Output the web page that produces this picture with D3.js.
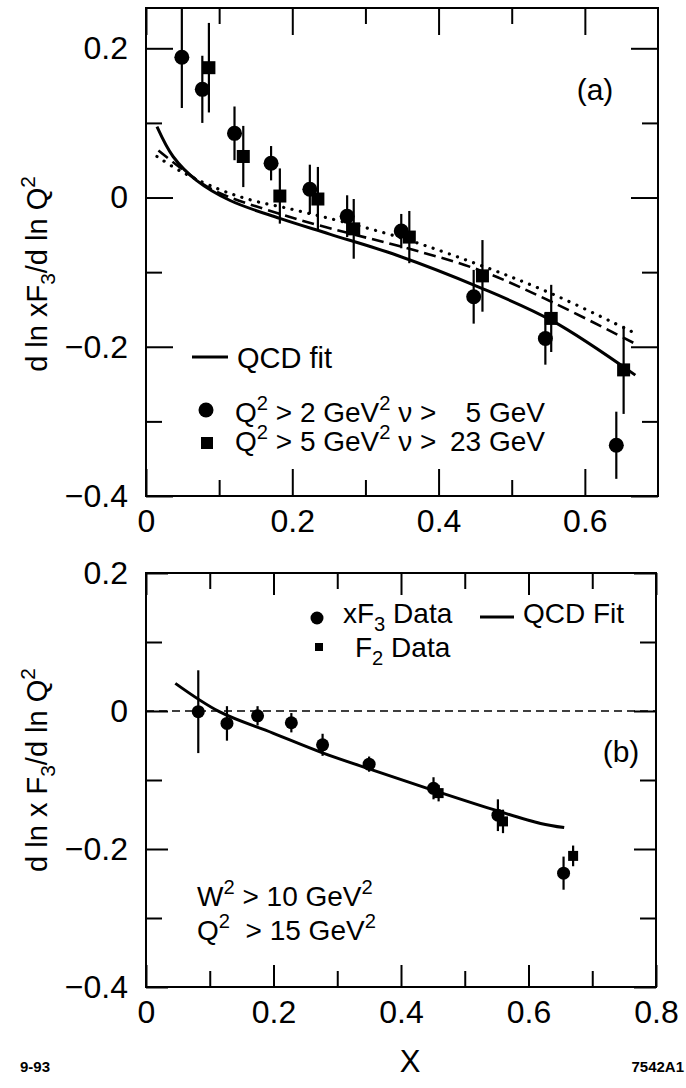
<!DOCTYPE html>
<html>
<head>
<meta charset="utf-8">
<script src="https://cdn.jsdelivr.net/npm/d3@7"></script>
<style>
  body { margin: 0; background: #fff; }
  svg { font-family: "Liberation Sans", Arial, sans-serif; }
  text { fill: #000; }
</style>
</head>
<body>
<svg id="chart" width="686" height="1088"></svg>
<script>
// ---- panel (a) data ----
const aCircX = [0.049, 0.077, 0.121, 0.171, 0.224, 0.275, 0.349, 0.448, 0.546, 0.643];
const aCircY = [0.188, 0.145, 0.086, 0.046, 0.011, -0.025, -0.045, -0.133, -0.189, -0.332];
const aCircE = [0.068, 0.045, 0.036, 0.023, 0.033, 0.028, 0.023, 0.036, 0.035, 0.045];
const aSqX = [0.086, 0.133, 0.183, 0.235, 0.284, 0.360, 0.460, 0.554, 0.653];
const aSqY = [0.174, 0.055, 0.002, -0.002, -0.042, -0.053, -0.105, -0.162, -0.231];
const aSqE = [0.060, 0.041, 0.037, 0.043, 0.040, 0.035, 0.048, 0.045, 0.059];
const aFitX = [0.015, 0.037, 0.069, 0.115, 0.183, 0.251, 0.342, 0.455, 0.555, 0.669];
const aFitY = [0.095, 0.055, 0.023, -0.004, -0.028, -0.049, -0.077, -0.120, -0.165, -0.238];
const aDashX = [0.017, 0.051, 0.092, 0.183, 0.274, 0.346, 0.455, 0.555, 0.669];
const aDashY = [0.063, 0.037, 0.010, -0.022, -0.047, -0.065, -0.097, -0.140, -0.196];
const aDotX = [0.015, 0.046, 0.100, 0.146, 0.205, 0.342, 0.455, 0.555, 0.669];
const aDotY = [0.055, 0.036, 0.011, -0.004, -0.017, -0.052, -0.090, -0.129, -0.182];

// ---- panel (b) data ----
const bCircX = [0.082, 0.127, 0.175, 0.228, 0.277, 0.350, 0.451, 0.552, 0.655];
const bCircY = [-0.001, -0.018, -0.007, -0.017, -0.049, -0.077, -0.112, -0.151, -0.235];
const bCircE = [0.060, 0.025, 0.014, 0.014, 0.016, 0.011, 0.016, 0.023, 0.024];
const bSqX = [0.459, 0.560, 0.670];
const bSqY = [-0.119, -0.160, -0.210];
const bSqE = [0.012, 0.017, 0.015];
const bFitX = [0.046, 0.115, 0.199, 0.278, 0.357, 0.451, 0.552, 0.619, 0.656];
const bFitY = [0.040, -0.001, -0.032, -0.061, -0.086, -0.115, -0.145, -0.163, -0.169];

// ---- ticks ----
const aXMajor = [0, 0.2, 0.4, 0.6];
const aXMinor = [0.1, 0.3, 0.5];
const bXMajor = [0, 0.2, 0.4, 0.6, 0.8];
const bXMinor = [0.1, 0.3, 0.5, 0.7];
const yMajor = [-0.4, -0.2, 0, 0.2];
const yMinor = [-0.3, -0.1, 0.1];

const svg = d3.select('#chart');
const fmt = d => d === 0 ? '0' : d3.format('.1f')(d);

function rich(g, x, y, parts, size, anchor) {
  const t = g.append('text')
    .attr('x', x).attr('y', y)
    .attr('font-size', size)
    .attr('text-anchor', anchor || 'start')
    .style('white-space', 'pre');
  let cur = 0;
  parts.forEach(p => {
    const target = p[1] === 'sup' ? -0.42 * size : p[1] === 'sub' ? 0.28 * size : 0;
    const ts = t.append('tspan').text(p[0]);
    if (target !== cur) ts.attr('dy', target - cur);
    if (p[1]) ts.attr('font-size', size * 0.72);
    cur = target;
  });
  return t;
}

function panel(opt) {
  const x = d3.scaleLinear().domain(opt.xDomain).range([opt.left, opt.right]);
  const y = d3.scaleLinear().domain(opt.yDomain).range([opt.bottom, opt.top]);
  const g = svg.append('g');
  const w = opt.right - opt.left, h = opt.bottom - opt.top;
  const id = 'clip' + opt.name;
  g.append('clipPath').attr('id', id).append('rect')
    .attr('x', opt.left).attr('y', opt.top).attr('width', w).attr('height', h);

  // axes with inward ticks
  const axes = [
    [d3.axisBottom(x), opt.bottom, opt.xMajor, opt.xMinor, true, 'x'],
    [d3.axisTop(x), opt.top, opt.xMajor, opt.xMinor, false, 'x'],
    [d3.axisLeft(y), opt.left, yMajor, yMinor, true, 'y'],
    [d3.axisRight(y), opt.right, yMajor, yMinor, false, 'y']
  ];
  axes.forEach(([ax, pos, maj, min, labels, dir]) => {
    const tr = dir === 'x' ? `translate(0,${pos})` : `translate(${pos},0)`;
    const gm = g.append('g').attr('transform', tr)
      .call(ax.tickValues(maj).tickSize(-opt.majLen).tickPadding(dir === 'x' ? 13 : 18)
        .tickFormat(labels ? fmt : ''));
    const gn = g.append('g').attr('transform', tr)
      .call(ax.tickValues(min).tickSize(-opt.minLen).tickFormat(''));
    [gm, gn].forEach(s => {
      s.select('.domain').remove();
      s.selectAll('line').attr('stroke', '#000').attr('stroke-width', 2);
    });
    gm.selectAll('text').attr('font-size', 32).attr('fill', '#000')
      .attr('font-family', '"Liberation Sans", Arial, sans-serif');
  });

  g.append('rect').attr('x', opt.left).attr('y', opt.top).attr('width', w).attr('height', h)
    .attr('fill', 'none').attr('stroke', '#000').attr('stroke-width', 2);

  const plot = g.append('g').attr('clip-path', `url(#${id})`);
  return { x, y, g, plot };
}

function errBars(p, xs, ys, es) {
  p.plot.selectAll(null).data(xs).enter().append('line')
    .attr('x1', (d) => p.x(d)).attr('x2', (d) => p.x(d))
    .attr('y1', (d, i) => p.y(ys[i] + es[i]))
    .attr('y2', (d, i) => p.y(ys[i] - es[i]))
    .attr('stroke', '#000').attr('stroke-width', 2.2);
}
function circles(p, xs, ys, r) {
  p.plot.selectAll(null).data(xs).enter().append('circle')
    .attr('cx', d => p.x(d)).attr('cy', (d, i) => p.y(ys[i])).attr('r', r).attr('fill', '#000');
}
function squares(p, xs, ys, s) {
  p.plot.selectAll(null).data(xs).enter().append('rect')
    .attr('x', d => p.x(d) - s / 2).attr('y', (d, i) => p.y(ys[i]) - s / 2)
    .attr('width', s).attr('height', s).attr('fill', '#000');
}
function curve(p, xs, ys, dash, wdt, round) {
  const line = d3.line().x(d => p.x(d[0])).y(d => p.y(d[1])).curve(d3.curveCatmullRom.alpha(0.5));
  p.plot.append('path').datum(xs.map((v, i) => [v, ys[i]]))
    .attr('d', line).attr('fill', 'none').attr('stroke', '#000')
    .attr('stroke-width', wdt).attr('stroke-dasharray', dash)
    .attr('stroke-linecap', round ? 'round' : 'butt');
}

// ================= panel (a) =================
const pa = panel({ name: 'a', left: 146, right: 658, top: 8, bottom: 496,
  xDomain: [0, 0.7], yDomain: [-0.4, 0.254], xMajor: aXMajor, xMinor: aXMinor,
  majLen: 27, minLen: 16 });

curve(pa, aDotX, aDotY, '0.1,8.5', 3.2, true);
curve(pa, aDashX, aDashY, '12,6', 2.6);
curve(pa, aFitX, aFitY, null, 3);
errBars(pa, aCircX, aCircY, aCircE);
errBars(pa, aSqX, aSqY, aSqE);
circles(pa, aCircX, aCircY, 7.5);
squares(pa, aSqX, aSqY, 13);

pa.g.append('text').attr('x', 595).attr('y', 100).attr('font-size', 30)
  .attr('text-anchor', 'middle').text('(a)');

// legend (a)
pa.g.append('line').attr('x1', 192).attr('x2', 228).attr('y1', 357).attr('y2', 357)
  .attr('stroke', '#000').attr('stroke-width', 3);
pa.g.append('text').attr('x', 237).attr('y', 368).attr('font-size', 29).text('QCD fit');
pa.g.append('circle').attr('cx', 206).attr('cy', 410).attr('r', 7.5).attr('fill', '#000');
rich(pa.g, 235, 422, [['Q'], ['2', 'sup'], [' > 2 GeV'], ['2', 'sup'], [' ν >']], 28);
rich(pa.g, 545, 422, [['5 GeV']], 28, 'end');
pa.g.append('rect').attr('x', 201).attr('y', 437).attr('width', 12).attr('height', 12).attr('fill', '#000');
rich(pa.g, 235, 451, [['Q'], ['2', 'sup'], [' > 5 GeV'], ['2', 'sup'], [' ν >']], 28);
rich(pa.g, 545, 451, [['23 GeV']], 28, 'end');

// y title (a)
const ta = svg.append('g').attr('transform', 'translate(47,274) rotate(-90)');
rich(ta, 0, 0, [['d ln xF'], ['3', 'sub'], ['/d ln Q'], ['2', 'sup']], 29, 'middle');

// ================= panel (b) =================
const pb = panel({ name: 'b', left: 146, right: 656, top: 573, bottom: 987,
  xDomain: [0, 0.8], yDomain: [-0.4, 0.2], xMajor: bXMajor, xMinor: bXMinor,
  majLen: 22, minLen: 16 });

pb.plot.append('line').attr('x1', pb.x(0)).attr('x2', pb.x(0.8))
  .attr('y1', pb.y(0)).attr('y2', pb.y(0))
  .attr('stroke', '#000').attr('stroke-width', 1.5).attr('stroke-dasharray', '8,5');

curve(pb, bFitX, bFitY, null, 3);
errBars(pb, bCircX, bCircY, bCircE);
errBars(pb, bSqX, bSqY, bSqE);
circles(pb, bCircX, bCircY, 6.5);
squares(pb, bSqX, bSqY, 10);

pb.g.append('text').attr('x', 621).attr('y', 762).attr('font-size', 30)
  .attr('text-anchor', 'middle').text('(b)');

// legend (b)
pb.g.append('circle').attr('cx', 317).attr('cy', 618).attr('r', 6.5).attr('fill', '#000');
rich(pb.g, 343, 623, [['xF'], ['3', 'sub'], [' Data']], 28);
pb.g.append('rect').attr('x', 315).attr('y', 643).attr('width', 8).attr('height', 8).attr('fill', '#000');
rich(pb.g, 355, 657, [['F'], ['2', 'sub'], [' Data']], 28);
pb.g.append('line').attr('x1', 480).attr('x2', 514).attr('y1', 617).attr('y2', 617)
  .attr('stroke', '#000').attr('stroke-width', 3);
pb.g.append('text').attr('x', 523).attr('y', 623).attr('font-size', 28).text('QCD Fit');

rich(pb.g, 197, 906, [['W'], ['2', 'sup'], [' > 10 GeV'], ['2', 'sup']], 28);
rich(pb.g, 197, 940, [['Q'], ['2', 'sup'], ['  > 15 GeV'], ['2', 'sup']], 28);

// y title (b)
const tb = svg.append('g').attr('transform', 'translate(47,770) rotate(-90)');
rich(tb, 0, 0, [['d ln x F'], ['3', 'sub'], ['/d ln Q'], ['2', 'sup']], 29, 'middle');

// x title and figure codes
svg.append('text').attr('x', 410).attr('y', 1072).attr('font-size', 31)
  .attr('text-anchor', 'middle').text('X');
svg.append('text').attr('x', 20).attr('y', 1072).attr('font-size', 15)
  .attr('font-weight', 'bold').text('9-93');
svg.append('text').attr('x', 684).attr('y', 1072).attr('font-size', 15)
  .attr('font-weight', 'bold').attr('text-anchor', 'end').text('7542A1');
</script>
</body>
</html>
